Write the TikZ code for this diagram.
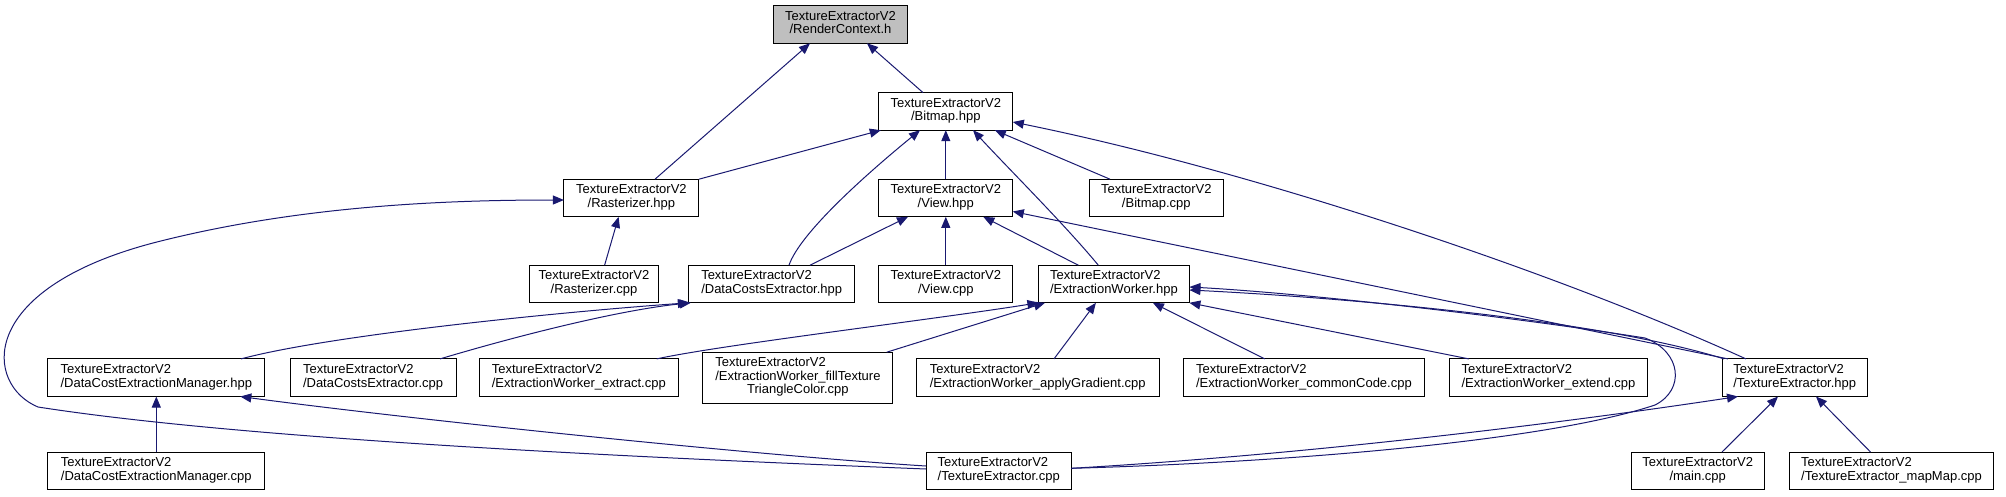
\documentclass[tikz,border=0pt]{standalone}
\usepackage{fontspec}
\setmainfont{Liberation Sans}
\usetikzlibrary{arrows.meta}
\definecolor{edgecol}{HTML}{191970}
\definecolor{rootfill}{HTML}{BFBFBF}
\newcommand{\lbl}[2]{\begin{tabular}{@{}l@{}}#1\\\multicolumn{1}{@{}c@{}}{#2}\end{tabular}}
\newcommand{\lblthree}[3]{\begin{tabular}{@{}l@{}}#1\\#2\\\multicolumn{1}{@{}c@{}}{#3}\end{tabular}}
\tikzset{
  box/.style={draw=black, line width=1pt, fill=white, inner sep=0pt, outer sep=0pt,
    minimum height=37.6pt, font=\fontsize{13}{13.3}\selectfont},
  edge/.style={draw=edgecol, line width=1pt, -{Triangle[length=11pt,width=9pt]}},
}
\begin{document}
\begin{tikzpicture}[x=1pt,y=-1pt]
\useasboundingbox (0,0) rectangle (2006,496);
\def\T{TextureExtractorV2}
% row 0
\node[box, fill=rootfill, minimum width=134pt] (rc) at (840.5,24.5) {\lbl{\T}{/RenderContext.h}};
% row 1
\node[box, minimum width=134pt] (bmh) at (945.8,111.4) {\lbl{\T}{/Bitmap.hpp}};
% row 2
\node[box, minimum width=135pt] (rah) at (631.4,198) {\lbl{\T}{/Rasterizer.hpp}};
\node[box, minimum width=134pt] (vh) at (945.8,198) {\lbl{\T}{/View.hpp}};
\node[box, minimum width=134pt] (bmc) at (1156.3,198) {\lbl{\T}{/Bitmap.cpp}};
% row 3
\node[box, minimum width=129.5pt] (rac) at (594,284) {\lbl{\T}{/Rasterizer.cpp}};
\node[box, minimum width=165.8pt] (dch) at (771.7,284) {\lbl{\T}{/DataCostsExtractor.hpp}};
\node[box, minimum width=134pt] (vc) at (945.8,284) {\lbl{\T}{/View.cpp}};
\node[box, minimum width=151pt] (ewh) at (1113.9,284) {\lbl{\T}{/ExtractionWorker.hpp}};
% row 4
\node[box, minimum width=217pt] (dmh) at (156.3,377.7) {\lbl{\T}{/DataCostExtractionManager.hpp}};
\node[box, minimum width=165.8pt] (dcc) at (373.1,377.7) {\lbl{\T}{/DataCostsExtractor.cpp}};
\node[box, minimum width=198.4pt] (ewx) at (578.8,377.7) {\lbl{\T}{/ExtractionWorker\_extract.cpp}};
\node[box, minimum width=190pt, minimum height=51pt] (ewf) at (797.9,377.7) {\lblthree{\T}{/ExtractionWorker\_fillTexture}{TriangleColor.cpp}};
\node[box, minimum width=243.4pt] (ewa) at (1037.7,377.7) {\lbl{\T}{/ExtractionWorker\_applyGradient.cpp}};
\node[box, minimum width=240.4pt] (ewc) at (1303.9,377.7) {\lbl{\T}{/ExtractionWorker\_commonCode.cpp}};
\node[box, minimum width=197.7pt] (ewe) at (1548.5,377.7) {\lbl{\T}{/ExtractionWorker\_extend.cpp}};
\node[box, minimum width=145.3pt] (teh) at (1794.7,377.7) {\lbl{\T}{/TextureExtractor.hpp}};
% row 5
\node[box, minimum width=217pt] (dmc) at (156.3,470.8) {\lbl{\T}{/DataCostExtractionManager.cpp}};
\node[box, minimum width=145.4pt] (tec) at (998.7,470.8) {\lbl{\T}{/TextureExtractor.cpp}};
\node[box, minimum width=132.6pt] (mc) at (1697.7,470.8) {\lbl{\T}{/main.cpp}};
\node[box, minimum width=204pt] (mm) at (1891.5,470.8) {\lbl{\T}{/TextureExtractor\_mapMap.cpp}};
% edges
\draw[edge] ([xshift=23.6pt]rah.north) -- ([xshift=-30.5pt]rc.south);
\draw[edge] ([xshift=-22.8pt]bmh.north) -- ([xshift=26.5pt]rc.south);
\draw[edge] (rah.north east) -- ([xshift=2pt]bmh.south west);
\draw[edge] ([xshift=17.3pt]dch.north) .. controls +(11,-32) and +(-55,45) .. ([xshift=-25.8pt]bmh.south);
\draw[edge] (vh.north) -- (bmh.south);
\draw[edge] ([xshift=-15.6pt]ewh.north) .. controls +(-33,-40) and +(37,40) .. ([xshift=27.2pt]bmh.south);
\draw[edge] ([xshift=-46.3pt]bmc.north) -- ([xshift=49pt]bmh.south);
\draw[edge] ([xshift=-48.7pt]teh.north) .. controls +(-196,-89) and +(237,48) .. ([yshift=-10.6pt]bmh.east);
\draw[edge] ([xshift=10.6pt]rac.north) -- ([xshift=-12.8pt]rah.south);
\draw[edge] ([yshift=1.8pt]tec.west) .. controls (650,458) and (250,440) .. (38,407)
   .. controls (-15,385) and (-25,290) .. (153,243) .. controls (300,205) and (450,200) .. ([yshift=-2pt]rah.west);
\draw[edge] ([xshift=38.3pt]dch.north) -- ([xshift=-37.8pt]vh.south);
\draw[edge] (vc.north) -- (vh.south);
\draw[edge] ([xshift=-35.6pt]ewh.north) -- ([xshift=37.5pt]vh.south);
\draw[edge] ([xshift=-66.7pt]teh.north) -- ([yshift=-13.5pt]vh.east);
\draw[edge] ([xshift=84.7pt]dmh.north) .. controls (330,335) and (560,312) .. (dch.south west);
\draw[edge] ([xshift=66.9pt]dcc.north) .. controls (520,335) and (620,310) .. ([xshift=2pt]dch.south west);
\draw[edge] ([xshift=77.9pt]ewx.north) .. controls (720,345) and (930,320) .. (ewh.south west);
\draw[edge] ([xshift=88.8pt]ewf.north) -- ([xshift=-68.9pt]ewh.south);
\draw[edge] ([xshift=16.3pt]ewa.north) -- ([xshift=-18pt]ewh.south);
\draw[edge] ([xshift=-39.2pt]ewc.north) -- ([xshift=39pt]ewh.south);
\draw[edge] ([xshift=-79.7pt]ewe.north) -- (ewh.south east);
\draw[edge] ([xshift=2pt]teh.north west) .. controls (1600,320) and (1350,298) .. ([yshift=-6pt]ewh.east);
\draw[edge] ([yshift=2.5pt]tec.east) .. controls (1300,462) and (1550,440) .. (1655,405)
   .. controls (1685,390) and (1682,352) .. (1645,338) .. controls (1500,315) and (1300,293) .. ([yshift=-3pt]ewh.east);
\draw[edge] (dmc.north) -- (dmh.south);
\draw[edge] ([yshift=4.8pt]tec.west) .. controls (750,455) and (400,418) .. ([xshift=84pt]dmh.south);
\draw[edge] ([yshift=2.5pt]tec.east) .. controls (1300,455) and (1550,425) .. ([xshift=-56.7pt]teh.south);
\draw[edge] ([xshift=24.3pt]mc.north) -- ([xshift=-16.7pt]teh.south);
\draw[edge] ([xshift=-21pt]mm.north) -- ([xshift=21.3pt]teh.south);
\end{tikzpicture}
\end{document}
